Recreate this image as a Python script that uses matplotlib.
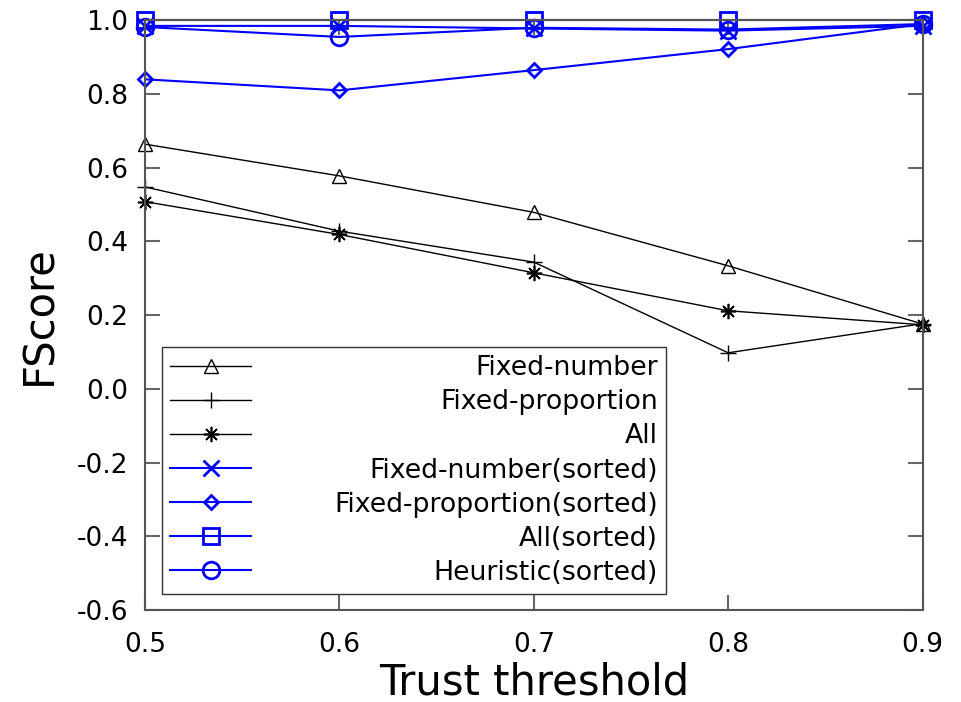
import matplotlib
matplotlib.use("Agg")
import matplotlib.pyplot as plt

# data
thresholds = [0.5, 0.6, 0.7, 0.8, 0.9]
fixed_number = [0.664, 0.578, 0.479, 0.334, 0.176]
fixed_proportion = [0.548, 0.428, 0.344, 0.098, 0.177]
all_runs = [0.508, 0.419, 0.315, 0.212, 0.174]
fixed_number_sorted = [0.985, 0.985, 0.978, 0.972, 0.985]
fixed_proportion_sorted = [0.840, 0.810, 0.865, 0.922, 0.990]
all_sorted = [1.0, 1.0, 1.0, 1.0, 1.0]
heuristic_sorted = [0.982, 0.955, 0.980, 0.975, 0.990]

xticks = [0.5, 0.6, 0.7, 0.8, 0.9]
yticks = [-0.6, -0.4, -0.2, 0.0, 0.2, 0.4, 0.6, 0.8, 1.0]
ytick_labels = ["-0.6", "-0.4", "-0.2", "0.0", "0.2", "0.4", "0.6", "0.8", "1.0"]

fig = plt.figure(figsize=(9.61, 7.02), dpi=100)
ax = fig.add_axes([0.151, 0.131, 0.809, 0.840])

blue = "#0000ff"
ax.plot(thresholds, fixed_number, color="black", lw=1, marker="^", ms=10,
        mfc="none", mec="black", label="Fixed-number", clip_on=False)
ax.plot(thresholds, fixed_proportion, color="black", lw=1, marker="+", ms=12,
        mew=1, label="Fixed-proportion", clip_on=False)
ax.plot(thresholds, all_runs, color="black", lw=1, marker=(8, 2, 0), ms=11,
        mew=1.2, label="All", clip_on=False)
ax.plot(thresholds, fixed_number_sorted, color=blue, lw=1.5, marker="x", ms=11,
        mew=2, label="Fixed-number(sorted)", clip_on=False)
ax.plot(thresholds, fixed_proportion_sorted, color=blue, lw=1.5, marker="D", ms=7,
        mfc="none", mew=2, label="Fixed-proportion(sorted)", clip_on=False)
ax.plot(thresholds, all_sorted, color=blue, lw=1.5, marker="s", ms=12,
        mfc="none", mew=2, label="All(sorted)", clip_on=False)
ax.plot(thresholds, heuristic_sorted, color=blue, lw=1.5, marker="o", ms=12,
        mfc="none", mew=2, label="Heuristic(sorted)", clip_on=False)

ax.set_xlim(0.5, 0.9)
ax.set_ylim(-0.6, 1.0)
ax.set_xticks(xticks)
ax.set_xticklabels([f"{v:.1f}" for v in xticks])
ax.set_yticks(yticks)
ax.set_yticklabels(ytick_labels)
ax.tick_params(direction="in", length=11, width=1.5, color="#666666",
               labelsize=19, top=True, right=True)
ax.tick_params(axis="x", pad=16)
ax.tick_params(axis="y", pad=12)
for s in ax.spines.values():
    s.set_color("#555555")
    s.set_linewidth(1.5)

ax.set_xlabel("Trust threshold", fontsize=30, labelpad=2)
ax.set_ylabel("FScore", fontsize=30, labelpad=12)

leg = ax.legend(loc="lower left", bbox_to_anchor=(0.005, 0.005), fontsize=19.3,
                handlelength=3.0, handletextpad=3.1, labelspacing=0.3,
                fancybox=False, framealpha=1, edgecolor="#333333",
                borderpad=0.3, borderaxespad=0.5)
leg.get_frame().set_linewidth(1)

# right-align legend texts
renderer = fig.canvas.get_renderer()
widths = [t.get_window_extent(renderer).width for t in leg.get_texts()]
wmax = max(widths)
for t, w in zip(leg.get_texts(), widths):
    t.set_x(wmax - w)

fig.savefig("out.png", dpi=100)
